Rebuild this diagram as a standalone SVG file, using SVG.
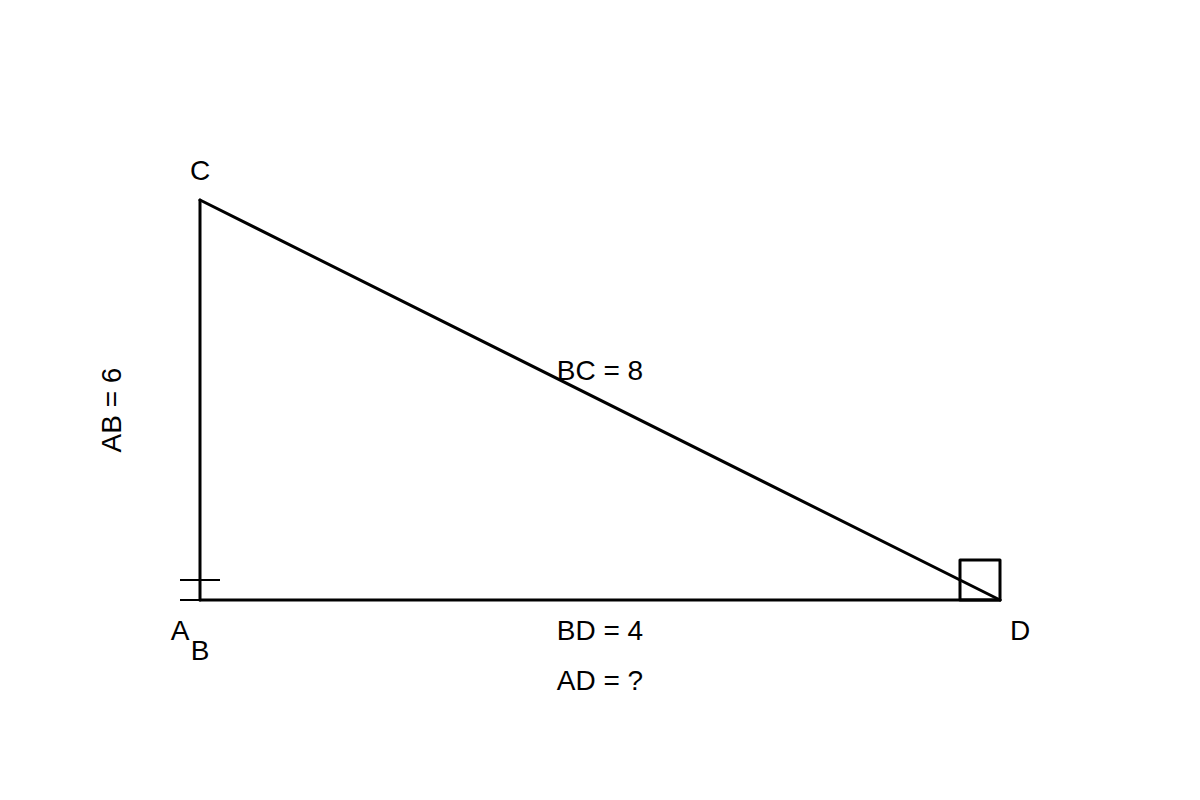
<svg xmlns="http://www.w3.org/2000/svg" width="1200" height="800" viewBox="0 0 1200 800">
<style>
.edge{stroke:#000;stroke-width:3;fill:none;stroke-linecap:round;stroke-linejoin:round}
.thin{stroke:#000;stroke-width:2;fill:none}
.lbl{font-family:"Liberation Sans",Arial,sans-serif;font-size:28px;fill:#000;text-anchor:middle}
</style>
<rect width="1200" height="800" fill="#fff"/>
<g id="connectors">
<line class="edge" x1="200" y1="200" x2="200" y2="600"/>
<line class="edge" x1="200" y1="600" x2="1000" y2="600"/>
<line class="edge" x1="200" y1="200" x2="1000" y2="600"/>
</g>
<g id="marks">
<line class="thin" x1="180" y1="580" x2="220" y2="580"/>
<line class="thin" x1="180" y1="600" x2="200" y2="600"/>
<rect class="edge" x="960" y="560" width="40" height="40" stroke-linecap="butt"/>
</g>
<g id="node-C"><text class="lbl" x="200" y="180">C</text></g>
<g id="node-A"><text class="lbl" x="180" y="640">A</text></g>
<g id="node-B"><text class="lbl" x="200" y="660">B</text></g>
<g id="node-D"><text class="lbl" x="1020" y="640">D</text></g>
<g id="labels">
<text class="lbl" x="600" y="380">BC = 8</text>
<text class="lbl" x="600" y="640">BD = 4</text>
<text class="lbl" x="600" y="690">AD = ?</text>
<text class="lbl" transform="translate(121,410) rotate(-90)">AB = 6</text>
</g>
</svg>
